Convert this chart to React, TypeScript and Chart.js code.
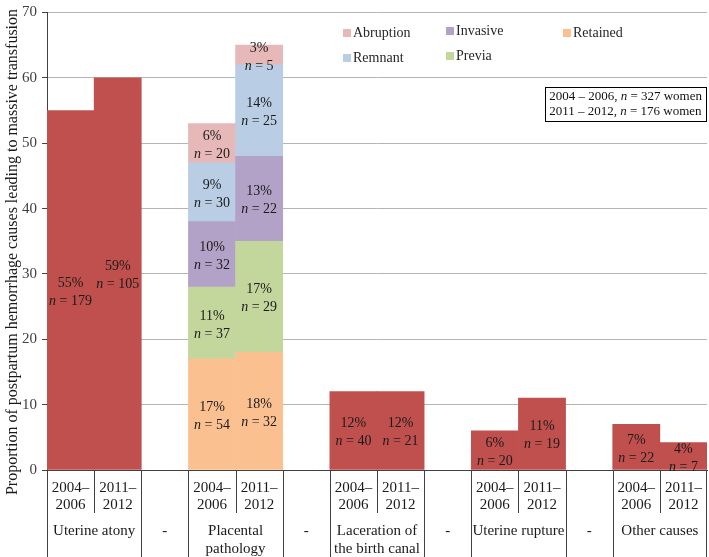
import React, { useEffect, useRef } from "react";
import { Chart, registerables } from "chart.js";
Chart.register(...registerables);

// ---------- data ----------
const slots = [
  "atony-2004", "atony-2011", "gap-1",
  "placental-2004", "placental-2011", "gap-2",
  "laceration-2004", "laceration-2011", "gap-3",
  "rupture-2004", "rupture-2011", "gap-4",
  "other-2004", "other-2011",
];
const yearLabels: (string[] | null)[] = [
  ["2004–", "2006"], ["2011–", "2012"], null,
  ["2004–", "2006"], ["2011–", "2012"], null,
  ["2004–", "2006"], ["2011–", "2012"], null,
  ["2004–", "2006"], ["2011–", "2012"], null,
  ["2004–", "2006"], ["2011–", "2012"],
];
const groupLabels: string[][] = [
  ["Uterine atony"], ["-"], ["Placental", "pathology"], ["-"],
  ["Laceration of", "the birth canal"], ["-"], ["Uterine rupture"], ["-"], ["Other causes"],
];
const groupSpans = [2, 1, 2, 1, 2, 1, 2, 1, 2];

const causeValues = [55, 60, null, null, null, null, 12, 12, null, 6, 11, null, 7, 4.2];
const causePct = ["55%", "59%", null, null, null, null, "12%", "12%", null, "6%", "11%", null, "7%", "4%"];
const causeN = [179, 105, null, null, null, null, 40, 21, null, 20, 19, null, 22, 7];

const retainedValues = [null, null, null, 17, 18, null, null, null, null, null, null, null, null, null];
const retainedN = [null, null, null, 54, 32, null, null, null, null, null, null, null, null, null];
const previaValues = [null, null, null, 11, 17, null, null, null, null, null, null, null, null, null];
const previaN = [null, null, null, 37, 29, null, null, null, null, null, null, null, null, null];
const invasiveValues = [null, null, null, 10, 13, null, null, null, null, null, null, null, null, null];
const invasiveN = [null, null, null, 32, 22, null, null, null, null, null, null, null, null, null];
const remnantValues = [null, null, null, 9, 14, null, null, null, null, null, null, null, null, null];
const remnantN = [null, null, null, 30, 25, null, null, null, null, null, null, null, null, null];
const abruptionValues = [null, null, null, 6, 3, null, null, null, null, null, null, null, null, null];
const abruptionN = [null, null, null, 20, 5, null, null, null, null, null, null, null, null, null];

const yMin = 0;
const yMax = 70;
const yStep = 10;

const periodLabels = ["2004 – 2006, ", "2011 – 2012, "];
const periodN = [327, 176];

const yTitle = "Proportion of postpartum hemorrhage causes leading to massive transfusion";

// ---------- styles ----------
const SERIF = "'Liberation Serif', 'Times New Roman', serif";
const RED = "#C0504D";
const COLORS = {
  retained: "#FAC090",
  previa: "#C3D69B",
  invasive: "#B3A2C7",
  remnant: "#B9CDE5",
  abruption: "#E6B9B8",
};
const LINE = "#404040";

type Part = { t: string; i?: boolean };
function partsWidth(ctx: CanvasRenderingContext2D, parts: Part[], size: number) {
  let w = 0;
  for (const p of parts) {
    ctx.font = `${p.i ? "italic " : ""}${size}px ${SERIF}`;
    w += ctx.measureText(p.t).width;
  }
  return w;
}
function drawParts(ctx: CanvasRenderingContext2D, parts: Part[], x: number, y: number, size: number, align: "left" | "center") {
  const w = partsWidth(ctx, parts, size);
  let cx = align === "center" ? x - w / 2 : x;
  ctx.textAlign = "left";
  for (const p of parts) {
    ctx.font = `${p.i ? "italic " : ""}${size}px ${SERIF}`;
    ctx.fillText(p.t, cx, y);
    cx += ctx.measureText(p.t).width;
  }
}

const overlayPlugin = {
  id: "overlay",
  afterDatasetsDraw(chart: any) {
    const ctx: CanvasRenderingContext2D = chart.ctx;
    ctx.save();
    ctx.fillStyle = "#1a1a1a";
    ctx.textBaseline = "middle";
    chart.data.datasets.forEach((ds: any, di: number) => {
      const meta = chart.getDatasetMeta(di);
      meta.data.forEach((el: any, i: number) => {
        const v = ds.data[i];
        if (v == null) return;
        const pct = ds.pctLabels[i];
        const n = ds.nLabels[i];
        const yc = (el.y + el.base) / 2 + 2;
        ctx.font = `14px ${SERIF}`;
        ctx.textAlign = "center";
        ctx.fillText(pct, el.x, yc - 9);
        drawParts(ctx, [{ t: "n", i: true }, { t: ` = ${n}` }], el.x, yc + 9, 14, "center");
      });
    });
    ctx.restore();
  },
  afterDraw(chart: any) {
    const ctx: CanvasRenderingContext2D = chart.ctx;
    const xs = chart.scales.x;
    const area = chart.chartArea;
    const H = chart.height;
    const half = (xs.getPixelForValue(1) - xs.getPixelForValue(0)) / 2;
    ctx.save();

    // table lines below the axis
    ctx.strokeStyle = LINE;
    ctx.lineWidth = 1;
    let idx = 0;
    const groupStarts: number[] = [];
    groupSpans.forEach((s) => { groupStarts.push(idx); idx += s; });
    const fullLines = new Set<number>();
    groupStarts.forEach((g) => fullLines.add(g));
    fullLines.add(slots.length);
    for (let k = 0; k <= slots.length; k++) {
      const x = Math.round(xs.getPixelForValue(k) - half) + 0.5;
      const x2 = k === slots.length ? Math.round(xs.getPixelForValue(k - 1) + half) - 0.5 : x;
      ctx.beginPath();
      if (fullLines.has(k)) {
        ctx.moveTo(x2, area.bottom);
        ctx.lineTo(x2, H);
      } else {
        ctx.moveTo(x, area.bottom);
        ctx.lineTo(x, area.bottom + 43);
      }
      ctx.stroke();
    }

    // year labels
    ctx.fillStyle = "#1a1a1a";
    ctx.textAlign = "center";
    ctx.textBaseline = "middle";
    ctx.font = `15px ${SERIF}`;
    yearLabels.forEach((lab, i) => {
      if (!lab) return;
      const x = xs.getPixelForValue(i);
      lab.forEach((line, li) => ctx.fillText(line, x, area.bottom + 18 + li * 17));
    });
    // group labels
    groupLabels.forEach((lab, gi) => {
      const s = groupStarts[gi];
      const e = s + groupSpans[gi] - 1;
      const x = (xs.getPixelForValue(s) + xs.getPixelForValue(e)) / 2;
      lab.forEach((line, li) => ctx.fillText(line, x, area.bottom + 61 + li * 18));
    });

    // y axis title
    ctx.save();
    ctx.translate(13, 252);
    ctx.rotate(-Math.PI / 2);
    ctx.font = `16px ${SERIF}`;
    ctx.fillStyle = "#1a1a1a";
    ctx.fillText(yTitle, 0, 0);
    ctx.restore();

    // legend
    const legendItems = chart.data.datasets.filter((d: any) => d.inLegend).slice().reverse();
    const colX = [343, 446, 563];
    const colDy = [0, -2, 0];
    const rowY = [33, 58];
    legendItems.forEach((d: any, i: number) => {
      const c = Math.floor(i / 2);
      const r = i % 2;
      const x = colX[c];
      const y = rowY[r] + colDy[c];
      ctx.fillStyle = d.backgroundColor;
      ctx.fillRect(x, y - 4, 8, 8);
      ctx.fillStyle = "#262626";
      ctx.textAlign = "left";
      ctx.font = `14px ${SERIF}`;
      ctx.fillText(d.label, x + 10, y);
    });

    // period box
    const size = 13;
    const rows: Part[][] = periodLabels.map((p, i) => [{ t: p }, { t: "n", i: true }, { t: ` = ${periodN[i]} women` }]);
    const w = Math.max(...rows.map((r) => partsWidth(ctx, r, size))) + 8;
    const bx = 706 - w;
    const by = 87;
    const bh = 34;
    ctx.fillStyle = "#fff";
    ctx.fillRect(bx, by, w, bh);
    ctx.strokeStyle = "#000";
    ctx.strokeRect(Math.round(bx) + 0.5, by + 0.5, Math.round(w), bh);
    ctx.fillStyle = "#111";
    rows.forEach((r, i) => drawParts(ctx, r, bx + 4, by + 10 + i * 15, size, "left"));

    ctx.restore();
  },
};

export default function App() {
  const ref = useRef<HTMLCanvasElement>(null);
  useEffect(() => {
    if (!ref.current) return;
    const mk = (label: string, data: any[], pct: any[], n: any[], color: string, inLegend: boolean) => ({
      label, data, pctLabels: pct, nLabels: n, backgroundColor: color, inLegend,
      borderWidth: 0, barPercentage: 1, categoryPercentage: 1,
    });
    const pctOf = (arr: any[]) => arr.map((v) => (v == null ? null : `${v}%`));
    const chart = new Chart(ref.current, {
      type: "bar",
      data: {
        labels: slots,
        datasets: [
          mk("Cause", causeValues, causePct, causeN, RED, false),
          mk("Retained", retainedValues, pctOf(retainedValues), retainedN, COLORS.retained, true),
          mk("Previa", previaValues, pctOf(previaValues), previaN, COLORS.previa, true),
          mk("Invasive", invasiveValues, pctOf(invasiveValues), invasiveN, COLORS.invasive, true),
          mk("Remnant", remnantValues, pctOf(remnantValues), remnantN, COLORS.remnant, true),
          mk("Abruption", abruptionValues, pctOf(abruptionValues), abruptionN, COLORS.abruption, true),
        ] as any,
      },
      options: {
        animation: false,
        responsive: false,
        maintainAspectRatio: false,
        layout: { padding: { top: 8, right: 2, left: 0, bottom: 0 } },
        plugins: { legend: { display: false }, tooltip: { enabled: false } },
        scales: {
          x: {
            stacked: true,
            ticks: { display: false },
            grid: { display: false },
            border: { display: true, color: LINE },
            afterFit: (s: any) => { s.height = 87; },
          },
          y: {
            stacked: true,
            min: yMin,
            max: yMax,
            ticks: { stepSize: yStep, font: { family: SERIF, size: 15, lineHeight: 1 }, color: "#404040", padding: 5 },
            grid: { color: "#b5b5b5", tickColor: LINE, tickLength: 5 },
            border: { color: LINE },
            afterFit: (s: any) => { s.width = 47; },
          },
        },
      } as any,
      plugins: [overlayPlugin],
    });
    return () => chart.destroy();
  }, []);
  return (
    <div style={{ position: "absolute", left: 0, top: 0, width: 709, height: 557, background: "#fff" }}>
      <canvas ref={ref} width={709} height={557} />
    </div>
  );
}
